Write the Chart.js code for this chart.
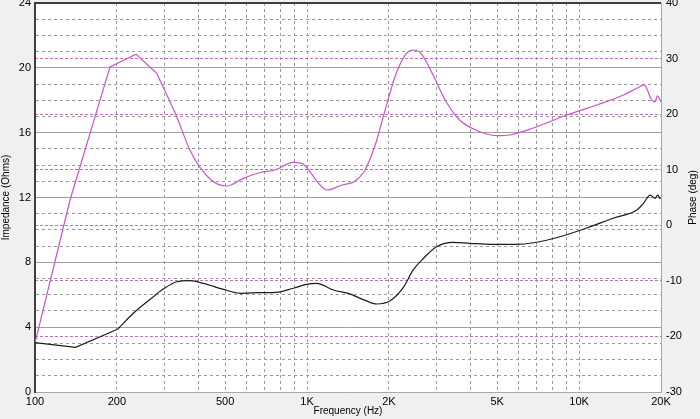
<!DOCTYPE html>
<html>
<head>
<meta charset="utf-8">
<script src="https://cdn.jsdelivr.net/npm/chart.js@4.4.0/dist/chart.umd.min.js"></script>
<style>
  html, body { margin: 0; padding: 0; background: #f0f0f0; }
  #wrap { width: 700px; height: 419px; }
</style>
</head>
<body>
<div id="wrap"><canvas id="chart" width="700" height="419"></canvas></div>
<script>
// impedance curve (Ohms), left axis
const impFreq = [100, 141, 201, 233, 265, 296, 332, 371, 416, 493, 567, 673, 772, 890, 996, 1084, 1250, 1435, 1620, 1805,
                 2020, 2260, 2455, 2680, 2990, 3450, 3970, 4800, 5860, 6800, 8500, 10620, 13340, 16300, 17240, 18260, 19000, 19500, 19800, 20000];
const impedance = [3.05, 2.76, 3.87, 4.95, 5.72, 6.35, 6.8, 6.87, 6.7, 6.33, 6.09, 6.13, 6.15, 6.4, 6.64, 6.7, 6.29, 6.05, 5.68, 5.43,
                   5.63, 6.45, 7.53, 8.25, 8.96, 9.23, 9.17, 9.11, 9.11, 9.21, 9.58, 10.1, 10.72, 11.23, 11.64, 12.15, 11.95, 12.15, 11.95, 12.0];

// phase curve (deg), right axis
const phaseFreq = [100, 134.5, 188.7, 235, 280, 332, 371, 416, 465, 506, 583, 673, 762, 891, 967, 1025, 1103, 1183, 1345, 1488,
                   1620, 1716, 1805, 1905, 2127, 2321, 2450, 2623, 2884, 3218, 3637, 4167, 4972, 5560, 6566, 9016, 11610, 14550,
                   16300, 17340, 18500, 19000, 19400, 20000];
const phase = [-21.2, 4.55, 28.5, 30.8, 27.35, 19.5, 13.55, 9.6, 7.5, 7.07, 8.45, 9.5, 9.95, 11.33, 11.03, 9.64, 7.55, 6.35, 7.25, 7.85,
               9.64, 12.3, 15.35, 19.5, 27.35, 30.95, 31.54, 30.95, 27.35, 22.55, 18.95, 17.15, 16.13, 16.25, 17.27, 19.85, 21.65, 23.45,
               24.65, 25.25, 22.5, 22.2, 23.3, 22.2];

// the low end of both curves is made of straight segments
const impStraight = 3;   // first 3 points
const phaseStraight = 5; // first 5 points

// axis ticks
const xTicks = [100, 200, 300, 400, 500, 600, 700, 800, 900, 1000, 2000, 3000, 4000, 5000, 6000, 7000, 8000, 9000, 10000, 20000];
const xLabels = {100: '100', 200: '200', 500: '500', 1000: '1K', 2000: '2K', 5000: '5K', 10000: '10K', 20000: '20K'};

const tickFont = {family: "'Liberation Sans', Arial, sans-serif", size: 11};
const titleFont = {family: "'Liberation Sans', Arial, sans-serif", size: 10};

const frame = {
  id: 'frame',
  beforeDraw(chart) {
    const {ctx, chartArea: a} = chart;
    ctx.save();
    ctx.fillStyle = '#f0f0f0';
    ctx.fillRect(0, 0, chart.width, chart.height);
    ctx.fillStyle = '#ffffff';
    ctx.fillRect(a.left, a.top, a.right - a.left, a.bottom - a.top);
    ctx.restore();
  },
  afterDraw(chart) {
    const {ctx, chartArea: a} = chart;
    ctx.save();
    ctx.strokeStyle = '#404040';
    ctx.lineWidth = 2;
    ctx.beginPath();
    ctx.moveTo(a.left - 1, a.top);
    ctx.lineTo(a.right, a.top);
    ctx.stroke();
    // right axis title reads bottom to top
    ctx.fillStyle = '#000';
    ctx.font = "10px 'Liberation Sans', Arial, sans-serif";
    ctx.translate(693, (a.top + a.bottom) / 2);
    ctx.rotate(-Math.PI / 2);
    ctx.textAlign = 'center';
    ctx.textBaseline = 'middle';
    ctx.fillText('Phase (deg)', 0, 0);
    ctx.restore();
  }
};

function edge(ctx) {
  return ctx.index === 0 || ctx.index === ctx.scale.ticks.length - 1;
}

function pts(fs, vs, from, to) {
  return fs.slice(from, to).map((f, i) => ({x: f, y: vs[from + i]}));
}

function series(data, axis, color, smooth) {
  return {
    data: data,
    yAxisID: axis,
    borderColor: color,
    borderWidth: 1.2,
    pointRadius: 0,
    tension: 0,
    cubicInterpolationMode: smooth ? 'monotone' : 'default'
  };
}

const black = '#1c1c1c';
const pink = '#c656c8';

new Chart(document.getElementById('chart'), {
  type: 'line',
  data: {
    datasets: [
      series(pts(impFreq, impedance, 0, impStraight), 'y', black, false),
      series(pts(impFreq, impedance, impStraight - 1), 'y', black, true),
      series(pts(phaseFreq, phase, 0, phaseStraight), 'y2', pink, false),
      series(pts(phaseFreq, phase, phaseStraight - 1), 'y2', pink, true)
    ]
  },
  options: {
    responsive: false,
    animation: false,
    devicePixelRatio: 1,
    layout: {padding: {top: 3, left: 0, right: 0, bottom: 0}},
    plugins: {legend: {display: false}, tooltip: {enabled: false}},
    scales: {
      x: {
        type: 'logarithmic',
        min: 100,
        max: 20000,
        afterBuildTicks: (s) => { s.ticks = xTicks.map(v => ({value: v})); },
        afterFit: (s) => { s.height = 27; s.paddingLeft = 0; s.paddingRight = 0; },
        ticks: {
          autoSkip: false, maxRotation: 0, padding: 3, color: '#000', font: tickFont,
          callback: (v) => xLabels[v] || ''
        },
        grid: {
          drawTicks: false,
          color: (c) => edge(c) ? 'rgba(0,0,0,0)' : '#9a9a9a',
          lineWidth: 1
        },
        border: {color: '#a8a8a8', width: 1, dash: (c) => c.tick ? [3, 3] : []},
        title: {display: true, text: 'Frequency (Hz)', color: '#000', font: titleFont, padding: {top: 0, bottom: 2}}
      },
      y: {
        position: 'left',
        min: 0,
        max: 24,
        afterFit: (s) => { s.width = 35; s.paddingTop = 0; s.paddingBottom = 0; },
        ticks: {
          stepSize: 1, autoSkip: false, padding: 4, color: '#000', font: tickFont,
          callback: (v) => v % 4 === 0 ? v : ''
        },
        grid: {
          drawTicks: false,
          color: (c) => edge(c) ? 'rgba(0,0,0,0)' : (c.tick.value % 4 === 0 ? '#a0a0a0' : '#9a9a9a'),
          lineWidth: 1
        },
        border: {color: '#404040', width: 2, dash: (c) => (c.tick && c.tick.value % 4 !== 0) ? [3, 3] : []},
        title: {display: true, text: 'Impedance (Ohms)', color: '#000', font: titleFont, padding: {top: 0, bottom: 0}}
      },
      y2: {
        position: 'right',
        min: -30,
        max: 40,
        afterFit: (s) => { s.width = 39; s.paddingTop = 0; s.paddingBottom = 0; },
        ticks: {stepSize: 10, autoSkip: false, padding: 5, color: '#000', font: tickFont},
        grid: {
          drawTicks: false,
          drawOnChartArea: true,
          color: (c) => edge(c) ? 'rgba(0,0,0,0)' : '#c070c0',
          lineWidth: 1
        },
        border: {color: '#a8a8a8', width: 1, dash: (c) => c.tick ? [3, 2] : []}
      }
    }
  },
  plugins: [frame]
});
</script>
</body>
</html>
